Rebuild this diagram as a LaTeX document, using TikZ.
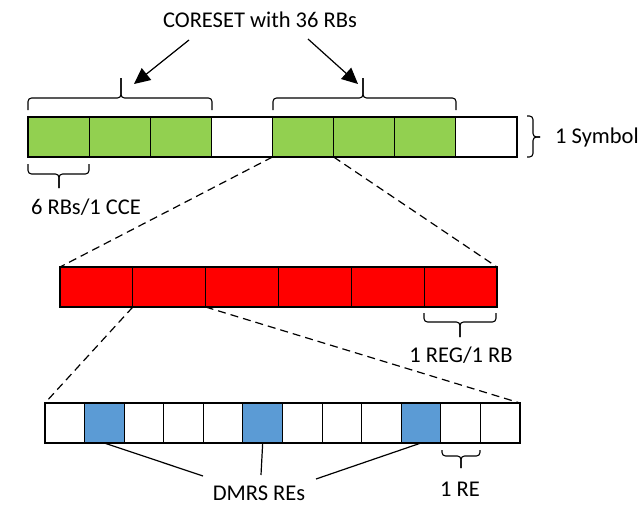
\documentclass[tikz,border=0pt]{standalone}
\usepackage{fontspec}
\setmainfont{Carlito}
\usetikzlibrary{arrows.meta,calc}
\definecolor{cgreen}{HTML}{92D050}
\definecolor{cred}{HTML}{FF0000}
\definecolor{cblue}{HTML}{5B9BD5}
\tikzset{
  cell/.style={draw=black, line width=1.1pt, minimum height=40pt, inner sep=0pt, outer sep=0pt, anchor=north west},
  tcell/.style={cell, minimum width=61.125pt},
  rcell/.style={cell, minimum width=72.83pt},
  bcell/.style={cell, minimum width=39.58pt},
  lbl/.style={font=\fontsize{22.5}{26}\selectfont, inner sep=0pt},
  bracep/.style={draw=black, line width=1.1pt, rounded corners=3.5pt},
  dashline/.style={draw=black, line width=1.2pt, dash pattern=on 8pt off 5pt},
  conn/.style={draw=black, line width=1.2pt},
  bigarrow/.style={draw=black, line width=1.2pt, -{Triangle[length=16pt,width=15pt]}}
}
\begin{document}
\begin{tikzpicture}[x=1pt,y=-1pt]
\useasboundingbox (0,0) rectangle (641,506);
% top row
\foreach \i/\c in {0/cgreen,1/cgreen,2/cgreen,3/white,4/cgreen,5/cgreen,6/cgreen,7/white}
  \node[tcell, fill=\c] (t\i) at ({28+\i*61.125},117) {};
% red row
\foreach \i in {0,...,5}
  \node[rcell, fill=cred] (r\i) at ({60+\i*72.83},267) {};
% blue row
\foreach \i/\c in {0/white,1/cblue,2/white,3/white,4/white,5/cblue,6/white,7/white,8/white,9/cblue,10/white,11/white}
  \node[bcell, fill=\c] (b\i) at ({45+\i*39.58},403) {};

% labels
\node[lbl] (title) at (260,20) {CORESET with 36 RBs};
\node[lbl, anchor=west] (sym) at (555,138) {1 Symbol};
\node[lbl] (cce) at (86,207) {6 RBs/1 CCE};
\node[lbl] (reg) at (461,355) {1 REG/1 RB};
\node[lbl] (dmrs) at (259,493) {DMRS REs};
\node[lbl] (re) at (460,489) {1 RE};

% arrows from title
\coordinate (a1s) at (189,40);
\coordinate (a1e) at (134,84);
\coordinate (a2s) at (308,39);
\coordinate (a2e) at (358,84);
\draw[bigarrow] (a1s) -- (a1e);
\draw[bigarrow] (a2s) -- (a2e);

% braces above top row
\draw[bracep] (28,110) -- (28,98) -- (121,98) -- (121,78);
\draw[bracep] (212,110) -- (212,98) -- (121,98) -- (121,78);
\draw[bracep] (273,110) -- (273,98) -- (363,98) -- (363,78);
\draw[bracep] (456,110) -- (456,98) -- (363,98) -- (363,78);
% brace right of top row
\draw[bracep] (527,116) -- (533,116) -- (533,137) -- (540,137);
\draw[bracep] (527,157) -- (533,157) -- (533,137) -- (540,137);
% brace below first cell
\draw[bracep] (28,164) -- (28,174) -- (59,174) -- (59,188);
\draw[bracep] (89,164) -- (89,174) -- (59,174) -- (59,188);
% brace below last red cell
\draw[bracep] (424,313) -- (424,322) -- (460,322) -- (460,337);
\draw[bracep] (496,313) -- (496,322) -- (460,322) -- (460,337);
% brace below RE
\draw[bracep] (442,450) -- (442,456) -- (461,456) -- (461,468);
\draw[bracep] (480,450) -- (480,456) -- (461,456) -- (461,468);

% dashed zoom lines
\draw[dashline] (t4.south west) -- (r0.north west);
\draw[dashline] (t5.south west) -- (r5.north east);
\draw[dashline] (r1.south west) -- (b0.north west);
\draw[dashline] (r2.south west) -- (b11.north east);

% DMRS connectors
\coordinate (d1) at (203,476);
\coordinate (d2) at (261,475);
\coordinate (d3) at (316,479);
\draw[conn] (b1.south) -- (d1);
\draw[conn] (b5.south) -- (d2);
\draw[conn] (b9.south) -- (d3);
\end{tikzpicture}
\end{document}
